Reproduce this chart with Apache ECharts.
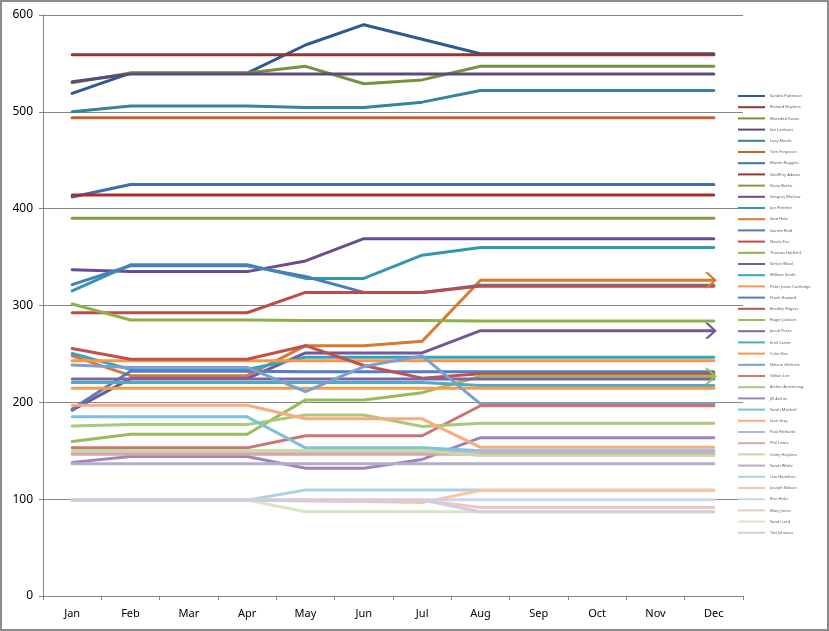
<!DOCTYPE html>
<html lang="en">
  <head>
    <meta charset="UTF-8" />
    <script src="https://cdn.jsdelivr.net/npm/echarts@6/dist/echarts.min.js"></script>
    <title>Monthly values</title>
    <style>
      html, body { margin: 0; padding: 0; background: #fff; }
      #app { width: 829px; height: 631px; }
    </style>
  </head>
  <body>
    <div id="app"></div>

    <script>
      const months = ["Jan", "Feb", "Mar", "Apr", "May", "Jun", "Jul", "Aug", "Sep", "Oct", "Nov", "Dec"];
      const yTicks = [0, 100, 200, 300, 400, 500, 600];

      const names = [
        "Sandra Pattinson", "Richard Hopkins", "Meredith Evans", "Ian Lambert", "Lucy Marsh",
        "Tom Ferguson", "Martin Ruggles", "Geoffrey Adams", "Fiona Butler", "Gregory Marlow",
        "Ian Fletcher", "Sam Hale", "Gareth Reid", "Nicola Fox", "Thomas Hatfield",
        "Simon Ward", "William Smith", "Peter Jones Cartledge", "Frank Howard", "Bradley Rogers",
        "Roger Jackson", "Jacob Parks", "Emil Carter", "Colin Kim", "Nelson Gilchrist",
        "Gillian Lee", "Arthur Armstrong", "Jill Archer", "Sarah Mitchell", "Ivan Gray",
        "Paul Richards", "Phil Lewis", "Cindy Hopkins", "Sarah White", "Lisa Hamilton",
        "Joseph Nelson", "Ron Hicks", "Mary Jones", "Sarah Lord", "Ted Johnson"
      ];

      const v01 = [519, 540, 540, 540, 569, 590, 575, 560, 560, 560, 560, 560];
      const v02 = [559, 559, 559, 559, 559, 559, 559, 559, 559, 559, 559, 559];
      const v03 = [530, 540, 540, 540, 547, 529, 533, 547, 547, 547, 547, 547];
      const v04 = [531, 539, 539, 539, 539, 539, 539, 539, 539, 539, 539, 539];
      const v05 = [500, 506, 506, 506, 504.5, 504.5, 510, 522, 522, 522, 522, 522];
      const v06 = [494, 494, 494, 494, 494, 494, 494, 494, 494, 494, 494, 494];
      const v07 = [412, 425, 425, 425, 425, 425, 425, 425, 425, 425, 425, 425];
      const v08 = [414, 414, 414, 414, 414, 414, 414, 414, 414, 414, 414, 414];
      const v09 = [390, 390, 390, 390, 390, 390, 390, 390, 390, 390, 390, 390];
      const v10 = [337, 335, 335, 335, 346, 369, 369, 369, 369, 369, 369, 369];
      const v11 = [315, 342, 342, 342, 328, 328, 352, 360, 360, 360, 360, 360];
      const v12 = [248, 227.5, 227.5, 227.5, 258.5, 258.5, 263, 326, 326, 326, 326, 326];
      const v13 = [321.5, 341, 341, 341, 330, 313.5, 313.5, 321, 321, 321, 321, 321];
      const v14 = [292.5, 292.5, 292.5, 292.5, 313.5, 313.5, 313.5, 320, 320, 320, 320, 320];
      const v15 = [301.5, 285, 285, 285, 284.5, 284.5, 284.5, 284, 284, 284, 284, 284];
      const v16 = [192, 224.5, 224.5, 224.5, 251, 251, 251, 274, 274, 274, 274, 274];
      const v17 = [250.5, 234, 234, 234, 246.5, 246.5, 246.5, 246.5, 246.5, 246.5, 246.5, 246.5];
      const v18 = [243, 243, 243, 243, 243, 243, 243, 243, 243, 243, 243, 243];
      const v19 = [193, 232, 232, 232, 231.5, 231.5, 231.5, 231.5, 231.5, 231.5, 231.5, 231.5];
      const v20 = [255.5, 244.5, 244.5, 244.5, 258.5, 238, 225, 229.5, 229.5, 229.5, 229.5, 229.5];
      const v21 = [159.5, 167, 167, 167, 202.5, 202.5, 210, 227, 227, 227, 227, 227];
      const v22 = [224, 224, 224, 224, 224, 224, 224, 224, 224, 224, 224, 224];
      const v23 = [220.5, 220.5, 220.5, 220.5, 220.5, 220.5, 220.5, 217.5, 217.5, 217.5, 217.5, 217.5];
      const v24 = [214.5, 214.5, 214.5, 214.5, 214.5, 214.5, 214.5, 214.5, 214.5, 214.5, 214.5, 214.5];
      const v25 = [238.5, 236, 236, 236, 211, 237, 248, 198.5, 198.5, 198.5, 198.5, 198.5];
      const v26 = [153, 153, 153, 153, 165.5, 165.5, 165.5, 196.5, 196.5, 196.5, 196.5, 196.5];
      const v27 = [175.5, 177, 177, 177, 187, 187, 175, 178.5, 178.5, 178.5, 178.5, 178.5];
      const v28 = [138, 144, 144, 144, 132, 132, 141, 163.5, 163.5, 163.5, 163.5, 163.5];
      const v29 = [185, 185, 185, 185, 153, 153, 153, 150, 150, 150, 150, 150];
      const v30 = [197, 197, 197, 197, 183, 183, 183, 153.5, 153.5, 153.5, 153.5, 153.5];
      const v31 = [149.5, 149.5, 149.5, 149.5, 149.5, 149.5, 149.5, 149.5, 149.5, 149.5, 149.5, 149.5];
      const v32 = [146.5, 146.5, 146.5, 146.5, 146.5, 146.5, 146.5, 146.5, 146.5, 146.5, 146.5, 146.5];
      const v33 = [150, 150, 150, 150, 150, 150, 150, 145, 145, 145, 145, 145];
      const v34 = [136.5, 136.5, 136.5, 136.5, 136.5, 136.5, 136.5, 136.5, 136.5, 136.5, 136.5, 136.5];
      const v35 = [99, 99, 99, 99, 109.5, 109.5, 109.5, 109.5, 109.5, 109.5, 109.5, 109.5];
      const v36 = [99, 99, 99, 99, 98, 97.5, 96.5, 109, 109, 109, 109, 109];
      const v37 = [99.5, 99.5, 99.5, 99.5, 99.5, 99.5, 99.5, 99.5, 99.5, 99.5, 99.5, 99.5];
      const v38 = [99, 99, 99, 99, 99, 99, 99, 91.5, 91.5, 91.5, 91.5, 91.5];
      const v39 = [99, 99, 99, 99, 87, 87, 87, 87, 87, 87, 87, 87];
      const v40 = [99, 99, 99, 99, 99, 99, 99, 87, 87, 87, 87, 87];

      const values = [
        v01, v02, v03, v04, v05, v06, v07, v08, v09, v10,
        v11, v12, v13, v14, v15, v16, v17, v18, v19, v20,
        v21, v22, v23, v24, v25, v26, v27, v28, v29, v30,
        v31, v32, v33, v34, v35, v36, v37, v38, v39, v40
      ];

      // series that end with an open arrow head
      const arrowSeries = [11, 15, 20];

      const colors = [
        "#2f5a8f", "#943634", "#76923c", "#5f497a", "#31859c", "#be6428",
        "#3c6eb4", "#a5302e", "#7f9f3f", "#6a4c93", "#3298ae", "#d9782f",
        "#4a7ebb", "#be4b48", "#8db04b", "#71589a", "#30a5c2", "#f79646",
        "#4f7fc4", "#c0504d", "#9bbb59", "#8064a2", "#4bacc6", "#f89a4a",
        "#7c9fd0", "#cd7472", "#a9c87a", "#9a86be", "#7cc2d8", "#faaa7c",
        "#a5b9dc", "#e0a3a2", "#c4d9a4", "#b7aacd", "#a8d2df", "#fbc3a2",
        "#c9d6ea", "#ebc6c5", "#d8e4c3", "#d4cbe0"
      ];

      const chevron = "path://M0,0L3.2,0L12,8L3.2,16L0,16L8.8,8Z";

      const echart = echarts.init(document.getElementById("app"));

      const series = values.map((vals, i) => {
        const data = vals.map((v, j) => {
          if (arrowSeries.includes(i) && j === vals.length - 1) {
            return { value: v, symbol: chevron, symbolSize: [12, 16], symbolOffset: [-3, 0] };
          }
          return v;
        });
        return {
          name: names[i],
          type: "line",
          data: data,
          symbol: "none",
          showSymbol: true,
          color: colors[i],
          lineStyle: { width: 3, cap: "round", join: "round" },
          itemStyle: { color: colors[i] },
          emphasis: { disabled: true },
          silent: true,
        };
      });

      echart.setOption({
        animation: false,
        textStyle: { fontFamily: "Noto Sans" },
        graphic: [
          {
            type: "rect",
            shape: { x: 1, y: 1, width: 827, height: 629 },
            style: { fill: "none", stroke: "#8c8c8c", lineWidth: 2 },
            silent: true,
          },
        ],
        grid: { left: 43, right: 86, top: 15, bottom: 35, containLabel: false },
        legend: {
          orient: "vertical",
          left: 733,
          top: 89,
          itemWidth: 27,
          itemHeight: 4,
          itemGap: 7.2,
          textStyle: { fontSize: 4, lineHeight: 4, color: "#595959" },
          data: names.map((n, i) => ({
            name: n,
            icon: "path://M0,0L27,0L27,2L0,2Z",
            itemStyle: { color: colors[i] },
          })),
          selectedMode: false,
        },
        xAxis: {
          type: "category",
          data: months,
          boundaryGap: true,
          axisLine: { lineStyle: { color: "#868686", width: 1 } },
          axisTick: { show: true, length: 4, lineStyle: { color: "#868686" } },
          axisLabel: { color: "#000", fontSize: 11, margin: 12 },
        },
        yAxis: {
          type: "value",
          min: yTicks[0],
          max: yTicks[yTicks.length - 1],
          interval: 100,
          axisLine: { show: true, lineStyle: { color: "#868686", width: 1 } },
          axisTick: { show: true, length: 4, lineStyle: { color: "#868686" } },
          axisLabel: { color: "#000", fontSize: 12, margin: 10 },
          splitLine: { lineStyle: { color: "#868686", width: 1 } },
        },
        series: series,
      });
    </script>
  </body>
</html>
